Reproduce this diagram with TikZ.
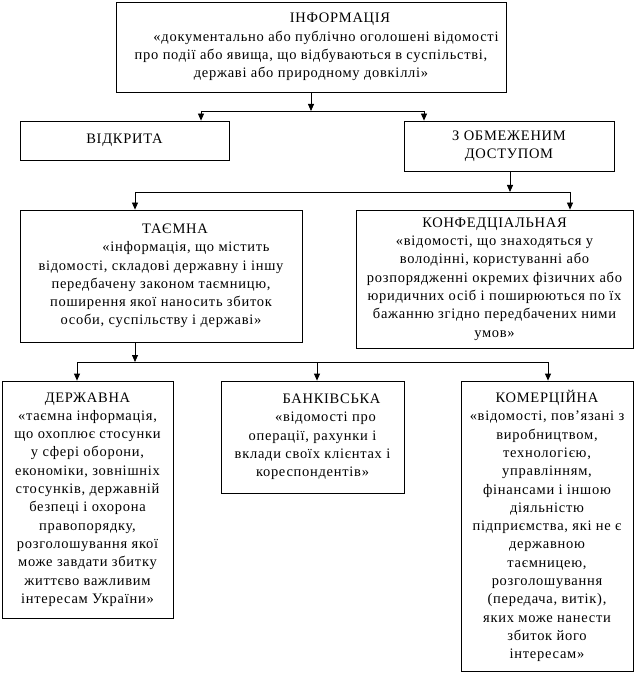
\documentclass[tikz,border=0pt]{standalone}
\usepackage{fontspec}
\setmainfont[LetterSpace=5,Ligatures=ResetAll]{Liberation Serif}
\usepackage{tikz}
\usetikzlibrary{arrows.meta}

\begin{document}
\begin{tikzpicture}[x=1pt,y=-1pt,
	box/.style={draw,line width=0.8pt,inner sep=0pt,align=center,font=\fontsize{14.5}{18.3}\selectfont},
	arr/.style={line width=0.8pt,-{Triangle[length=7pt,width=6pt]}}]
	\newcommand\bA{111} % first bus
	\newcommand\bB{192} % second bus
	\newcommand\bC{362} % third bus
	\useasboundingbox (0,0) rectangle (636,676);

	\node[box,minimum width=390pt,minimum height=90pt] (info) at (311,47) {\hspace*{58pt}ІНФОРМАЦІЯ\\\hspace*{30pt}«документально або публічно оголошені відомості\\про події або явища, що відбуваються в суспільстві,\\державі або природному довкіллі»};
	\node[box,minimum width=209pt,minimum height=39pt] (open) at (124.5,140.5) {ВІДКРИТА};
	\node[box,minimum width=210pt,minimum height=50pt] (restr) at (509,146) {З ОБМЕЖЕНИМ\\ДОСТУПОМ};

	\node[box,minimum width=282pt,minimum height=132pt] (secret) at (161,276) {\hspace*{28pt}ТАЄМНА\\\hspace*{50pt}«інформація, що містить\\відомості, складові державну і іншу\\передбачену законом таємницю,\\поширення якої наносить збиток\\особи, суспільству і державі»};
	\node[box,minimum width=277pt,minimum height=138pt] (conf) at (494.5,279) {КОНФЕДЦІАЛЬНАЯ\\«відомості, що знаходяться у\\володінні, користуванні або\\розпорядженні окремих фізичних або\\юридичних осіб і поширюються по їх\\бажанню згідно передбачених ними\\умов»};

	\node[box,minimum width=171pt,minimum height=237pt] (state) at (87.5,499.5) {ДЕРЖАВНА\\«таємна інформація,\\що охоплює стосунки\\у сфері оборони,\\економіки, зовнішніх\\стосунків, державній\\безпеці і охорона\\правопорядку,\\розголошування якої\\може завдати збитку\\життєво важливим\\інтересам України»};
	\node[box,minimum width=183pt,minimum height=112pt] (bank) at (312.5,437) {\hspace*{38pt}БАНКІВСЬКА\\\hspace*{26pt}«відомості про\\операції, рахунки і\\вклади своїх клієнтах і\\кореспондентів»};
	\node[box,minimum width=172pt,minimum height=290pt] (comm) at (547,526) {КОМЕРЦІЙНА\\«відомості, пов'язані з\\виробництвом,\\технологією,\\управлінням,\\фінансами і іншою\\діяльністю\\підприємства, які не є\\державною\\таємницею,\\розголошування\\(передача, витік),\\яких може нанести\\збиток його\\інтересам»};

	% buses
	\coordinate (b1l) at (201,\bA); \coordinate (b1r) at (424,\bA);
	\coordinate (b2l) at (135,\bB); \coordinate (b2r) at (570,\bB);
	\coordinate (b3l) at (77,\bC); \coordinate (b3m) at (317,\bC); \coordinate (b3r) at (548,\bC);
	\draw[line width=0.8pt] (b1l) -- (b1r);
	\draw[line width=0.8pt] (b2l) -- (b2r);
	\draw[line width=0.8pt] (b3l) -- (b3r);

	\draw[arr] (info.south) -- (info.south |- b1l);
	\draw[arr] (b1l) -- (b1l |- open.north);
	\draw[arr] (b1r) -- (b1r |- restr.north);

	\draw[arr] (restr.south -| 510,0) -- (510,\bB);
	\draw[arr] (b2l) -- (b2l |- secret.north);
	\draw[arr] (b2r) -- (b2r |- conf.north);

	\draw[arr] (secret.south -| b2l) -- (b2l |- b3l);
	\draw[arr] (b3l) -- (b3l |- state.north);
	\draw[arr] (b3m) -- (b3m |- bank.north);
	\draw[arr] (b3r) -- (b3r |- comm.north);
\end{tikzpicture}
\end{document}
